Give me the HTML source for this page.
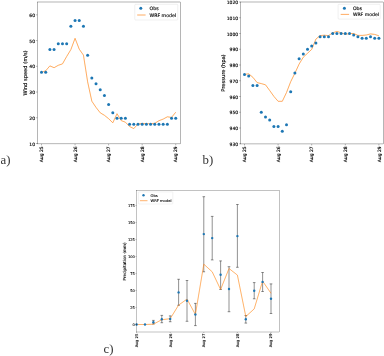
<!DOCTYPE html>
<html><head><meta charset="utf-8"><title>figure</title>
<style>html,body{margin:0;padding:0;background:#fff}svg{display:block}.t{font-family:'DejaVu Sans','Liberation Sans',sans-serif;fill:#000;stroke:#000;stroke-width:0.12px;text-rendering:geometricPrecision}</style></head>
<body><svg width="384" height="356" viewBox="0 0 384 356">
<rect width="384" height="356" fill="#fff"/>
<defs><filter id="soft" x="0" y="0" width="384" height="356" filterUnits="userSpaceOnUse"><feGaussianBlur stdDeviation="0.3"/></filter></defs>
<g filter="url(#soft)">
<polyline points="41.50,72.40 45.70,70.80 49.89,65.90 54.09,67.70 58.28,65.30 62.48,63.90 66.67,56.50 70.87,49.60 75.06,38.30 79.25,49.20 83.45,55.10 87.65,81.90 91.84,101.20 96.03,107.40 100.23,112.80 104.43,115.30 108.62,118.70 112.81,122.80 117.01,113.70 121.21,120.60 125.40,122.20 129.59,126.50 133.79,128.60 137.99,123.90 142.18,123.40 146.38,123.70 150.57,123.70 154.77,123.30 158.96,120.70 163.16,119.10 167.35,116.80 171.55,117.40 175.74,112.20" fill="none" stroke="#ff7f0e" stroke-width="0.65" stroke-linejoin="round" stroke-opacity="1"/>
<circle cx="41.50" cy="72.25" r="1.5" fill="#1f77b4"/>
<circle cx="45.70" cy="72.25" r="1.5" fill="#1f77b4"/>
<circle cx="49.89" cy="49.50" r="1.5" fill="#1f77b4"/>
<circle cx="54.09" cy="49.50" r="1.5" fill="#1f77b4"/>
<circle cx="58.28" cy="43.75" r="1.5" fill="#1f77b4"/>
<circle cx="62.48" cy="43.75" r="1.5" fill="#1f77b4"/>
<circle cx="66.67" cy="43.75" r="1.5" fill="#1f77b4"/>
<circle cx="70.87" cy="26.25" r="1.5" fill="#1f77b4"/>
<circle cx="75.06" cy="20.50" r="1.5" fill="#1f77b4"/>
<circle cx="79.25" cy="20.50" r="1.5" fill="#1f77b4"/>
<circle cx="83.45" cy="26.25" r="1.5" fill="#1f77b4"/>
<circle cx="87.65" cy="55.25" r="1.5" fill="#1f77b4"/>
<circle cx="91.84" cy="78.05" r="1.5" fill="#1f77b4"/>
<circle cx="96.03" cy="83.75" r="1.5" fill="#1f77b4"/>
<circle cx="100.23" cy="89.85" r="1.5" fill="#1f77b4"/>
<circle cx="104.43" cy="95.45" r="1.5" fill="#1f77b4"/>
<circle cx="108.62" cy="104.55" r="1.5" fill="#1f77b4"/>
<circle cx="112.81" cy="112.65" r="1.5" fill="#1f77b4"/>
<circle cx="117.01" cy="118.35" r="1.5" fill="#1f77b4"/>
<circle cx="121.21" cy="118.35" r="1.5" fill="#1f77b4"/>
<circle cx="125.40" cy="118.35" r="1.5" fill="#1f77b4"/>
<circle cx="129.59" cy="124.25" r="1.5" fill="#1f77b4"/>
<circle cx="133.79" cy="124.25" r="1.5" fill="#1f77b4"/>
<circle cx="137.99" cy="124.25" r="1.5" fill="#1f77b4"/>
<circle cx="142.18" cy="124.25" r="1.5" fill="#1f77b4"/>
<circle cx="146.38" cy="124.25" r="1.5" fill="#1f77b4"/>
<circle cx="150.57" cy="124.25" r="1.5" fill="#1f77b4"/>
<circle cx="154.77" cy="124.25" r="1.5" fill="#1f77b4"/>
<circle cx="158.96" cy="124.25" r="1.5" fill="#1f77b4"/>
<circle cx="163.16" cy="124.25" r="1.5" fill="#1f77b4"/>
<circle cx="167.35" cy="124.25" r="1.5" fill="#1f77b4"/>
<circle cx="171.55" cy="118.35" r="1.5" fill="#1f77b4"/>
<circle cx="175.74" cy="118.35" r="1.5" fill="#1f77b4"/>
<rect x="37.4" y="2" width="143.2" height="141.9" fill="none" stroke="#000" stroke-width="0.29"/>
<path d="M37.4 143.50h-1.5" stroke="#000" stroke-width="0.29"/>
<text x="35.00" y="145.67" font-size="4.5" text-anchor="end" class="t" stroke-width="0.14" style="stroke-width:0.14px">10</text>
<path d="M37.4 117.77h-1.5" stroke="#000" stroke-width="0.29"/>
<text x="35.00" y="119.94" font-size="4.5" text-anchor="end" class="t" stroke-width="0.14" style="stroke-width:0.14px">20</text>
<path d="M37.4 92.04h-1.5" stroke="#000" stroke-width="0.29"/>
<text x="35.00" y="94.21" font-size="4.5" text-anchor="end" class="t" stroke-width="0.14" style="stroke-width:0.14px">30</text>
<path d="M37.4 66.31h-1.5" stroke="#000" stroke-width="0.29"/>
<text x="35.00" y="68.48" font-size="4.5" text-anchor="end" class="t" stroke-width="0.14" style="stroke-width:0.14px">40</text>
<path d="M37.4 40.58h-1.5" stroke="#000" stroke-width="0.29"/>
<text x="35.00" y="42.75" font-size="4.5" text-anchor="end" class="t" stroke-width="0.14" style="stroke-width:0.14px">50</text>
<path d="M37.4 14.85h-1.5" stroke="#000" stroke-width="0.29"/>
<text x="35.00" y="17.02" font-size="4.5" text-anchor="end" class="t" stroke-width="0.14" style="stroke-width:0.14px">60</text>
<path d="M41.50 143.9v1.5" stroke="#000" stroke-width="0.29"/>
<text transform="translate(43.12,146.30) rotate(-90)" font-size="4.5" text-anchor="end" class="t" stroke-width="0.14" style="stroke-width:0.14px">Aug 25</text>
<path d="M75.06 143.9v1.5" stroke="#000" stroke-width="0.29"/>
<text transform="translate(76.68,146.30) rotate(-90)" font-size="4.5" text-anchor="end" class="t" stroke-width="0.14" style="stroke-width:0.14px">Aug 26</text>
<path d="M108.62 143.9v1.5" stroke="#000" stroke-width="0.29"/>
<text transform="translate(110.24,146.30) rotate(-90)" font-size="4.5" text-anchor="end" class="t" stroke-width="0.14" style="stroke-width:0.14px">Aug 27</text>
<path d="M142.18 143.9v1.5" stroke="#000" stroke-width="0.29"/>
<text transform="translate(143.80,146.30) rotate(-90)" font-size="4.5" text-anchor="end" class="t" stroke-width="0.14" style="stroke-width:0.14px">Aug 28</text>
<path d="M175.74 143.9v1.5" stroke="#000" stroke-width="0.29"/>
<text transform="translate(177.36,146.30) rotate(-90)" font-size="4.5" text-anchor="end" class="t" stroke-width="0.14" style="stroke-width:0.14px">Aug 29</text>
<text transform="translate(27,73) rotate(-90)" font-size="5.15" text-anchor="middle" class="t" stroke-width="0.14" style="stroke-width:0.14px">Wind speed (m/s)</text>
<rect x="134.8" y="4.3" width="43.0" height="15.7" rx="0.8" fill="#fff" fill-opacity="0.8" stroke="#ccc" stroke-width="0.29"/>
<circle cx="140.8" cy="8.3" r="1.5" fill="#1f77b4"/>
<path d="M137.2 15.0H145.6" stroke="#ff7f0e" stroke-width="0.65"/>
<text x="149.5" y="9.99" font-size="4.7" class="t" stroke-width="0.14" style="stroke-width:0.14px">Obs</text>
<text x="149.5" y="16.69" font-size="4.7" class="t" stroke-width="0.14" style="stroke-width:0.14px">WRF model</text>
<text x="0.6" y="164.2" font-size="12.8" fill="#333" font-family="Liberation Serif, serif">a)</text>
<polyline points="244.50,74.40 248.70,73.80 252.90,77.30 257.10,82.60 261.30,83.60 265.50,84.80 269.70,90.50 273.90,96.40 278.10,101.30 282.30,101.30 286.50,92.50 290.70,81.70 294.90,73.20 299.10,64.10 303.30,57.20 307.50,53.30 311.70,49.40 315.90,39.10 320.10,35.60 324.30,35.20 328.50,35.60 332.70,32.90 336.90,31.40 341.10,32.80 345.30,34.40 349.50,33.50 353.70,33.50 357.90,35.40 362.10,35.40 366.30,35.00 370.50,33.90 374.70,34.40 378.90,35.80" fill="none" stroke="#ff7f0e" stroke-width="0.65" stroke-linejoin="round" stroke-opacity="1"/>
<circle cx="244.50" cy="74.45" r="1.5" fill="#1f77b4"/>
<circle cx="248.70" cy="76.03" r="1.5" fill="#1f77b4"/>
<circle cx="252.90" cy="85.47" r="1.5" fill="#1f77b4"/>
<circle cx="257.10" cy="85.47" r="1.5" fill="#1f77b4"/>
<circle cx="261.30" cy="112.25" r="1.5" fill="#1f77b4"/>
<circle cx="265.50" cy="116.97" r="1.5" fill="#1f77b4"/>
<circle cx="269.70" cy="120.12" r="1.5" fill="#1f77b4"/>
<circle cx="273.90" cy="126.42" r="1.5" fill="#1f77b4"/>
<circle cx="278.10" cy="126.42" r="1.5" fill="#1f77b4"/>
<circle cx="282.30" cy="131.15" r="1.5" fill="#1f77b4"/>
<circle cx="286.50" cy="124.85" r="1.5" fill="#1f77b4"/>
<circle cx="290.70" cy="91.78" r="1.5" fill="#1f77b4"/>
<circle cx="294.90" cy="72.88" r="1.5" fill="#1f77b4"/>
<circle cx="299.10" cy="58.70" r="1.5" fill="#1f77b4"/>
<circle cx="303.30" cy="53.98" r="1.5" fill="#1f77b4"/>
<circle cx="307.50" cy="49.25" r="1.5" fill="#1f77b4"/>
<circle cx="311.70" cy="46.10" r="1.5" fill="#1f77b4"/>
<circle cx="315.90" cy="42.95" r="1.5" fill="#1f77b4"/>
<circle cx="320.10" cy="36.65" r="1.5" fill="#1f77b4"/>
<circle cx="324.30" cy="36.65" r="1.5" fill="#1f77b4"/>
<circle cx="328.50" cy="36.65" r="1.5" fill="#1f77b4"/>
<circle cx="332.70" cy="33.50" r="1.5" fill="#1f77b4"/>
<circle cx="336.90" cy="33.50" r="1.5" fill="#1f77b4"/>
<circle cx="341.10" cy="33.50" r="1.5" fill="#1f77b4"/>
<circle cx="345.30" cy="33.50" r="1.5" fill="#1f77b4"/>
<circle cx="349.50" cy="33.50" r="1.5" fill="#1f77b4"/>
<circle cx="353.70" cy="35.08" r="1.5" fill="#1f77b4"/>
<circle cx="357.90" cy="36.65" r="1.5" fill="#1f77b4"/>
<circle cx="362.10" cy="38.23" r="1.5" fill="#1f77b4"/>
<circle cx="366.30" cy="38.23" r="1.5" fill="#1f77b4"/>
<circle cx="370.50" cy="36.65" r="1.5" fill="#1f77b4"/>
<circle cx="374.70" cy="38.23" r="1.5" fill="#1f77b4"/>
<circle cx="378.90" cy="38.23" r="1.5" fill="#1f77b4"/>
<rect x="240.6" y="2" width="142.70000000000002" height="141.95" fill="none" stroke="#000" stroke-width="0.29"/>
<path d="M240.6 143.75h-1.5" stroke="#000" stroke-width="0.29"/>
<text x="238.20" y="145.92" font-size="4.5" text-anchor="end" class="t" stroke-width="0.14" style="stroke-width:0.14px">930</text>
<path d="M240.6 128.00h-1.5" stroke="#000" stroke-width="0.29"/>
<text x="238.20" y="130.17" font-size="4.5" text-anchor="end" class="t" stroke-width="0.14" style="stroke-width:0.14px">940</text>
<path d="M240.6 112.25h-1.5" stroke="#000" stroke-width="0.29"/>
<text x="238.20" y="114.42" font-size="4.5" text-anchor="end" class="t" stroke-width="0.14" style="stroke-width:0.14px">950</text>
<path d="M240.6 96.50h-1.5" stroke="#000" stroke-width="0.29"/>
<text x="238.20" y="98.67" font-size="4.5" text-anchor="end" class="t" stroke-width="0.14" style="stroke-width:0.14px">960</text>
<path d="M240.6 80.75h-1.5" stroke="#000" stroke-width="0.29"/>
<text x="238.20" y="82.92" font-size="4.5" text-anchor="end" class="t" stroke-width="0.14" style="stroke-width:0.14px">970</text>
<path d="M240.6 65.00h-1.5" stroke="#000" stroke-width="0.29"/>
<text x="238.20" y="67.17" font-size="4.5" text-anchor="end" class="t" stroke-width="0.14" style="stroke-width:0.14px">980</text>
<path d="M240.6 49.25h-1.5" stroke="#000" stroke-width="0.29"/>
<text x="238.20" y="51.42" font-size="4.5" text-anchor="end" class="t" stroke-width="0.14" style="stroke-width:0.14px">990</text>
<path d="M240.6 33.50h-1.5" stroke="#000" stroke-width="0.29"/>
<text x="238.20" y="35.67" font-size="4.5" text-anchor="end" class="t" stroke-width="0.14" style="stroke-width:0.14px">1000</text>
<path d="M240.6 17.75h-1.5" stroke="#000" stroke-width="0.29"/>
<text x="238.20" y="19.92" font-size="4.5" text-anchor="end" class="t" stroke-width="0.14" style="stroke-width:0.14px">1010</text>
<path d="M240.6 2.00h-1.5" stroke="#000" stroke-width="0.29"/>
<text x="238.20" y="4.17" font-size="4.5" text-anchor="end" class="t" stroke-width="0.14" style="stroke-width:0.14px">1020</text>
<path d="M244.50 143.95v1.5" stroke="#000" stroke-width="0.29"/>
<text transform="translate(246.12,146.35) rotate(-90)" font-size="4.5" text-anchor="end" class="t" stroke-width="0.14" style="stroke-width:0.14px">Aug 25</text>
<path d="M278.10 143.95v1.5" stroke="#000" stroke-width="0.29"/>
<text transform="translate(279.72,146.35) rotate(-90)" font-size="4.5" text-anchor="end" class="t" stroke-width="0.14" style="stroke-width:0.14px">Aug 26</text>
<path d="M311.70 143.95v1.5" stroke="#000" stroke-width="0.29"/>
<text transform="translate(313.32,146.35) rotate(-90)" font-size="4.5" text-anchor="end" class="t" stroke-width="0.14" style="stroke-width:0.14px">Aug 27</text>
<path d="M345.30 143.95v1.5" stroke="#000" stroke-width="0.29"/>
<text transform="translate(346.92,146.35) rotate(-90)" font-size="4.5" text-anchor="end" class="t" stroke-width="0.14" style="stroke-width:0.14px">Aug 28</text>
<path d="M378.90 143.95v1.5" stroke="#000" stroke-width="0.29"/>
<text transform="translate(380.52,146.35) rotate(-90)" font-size="4.5" text-anchor="end" class="t" stroke-width="0.14" style="stroke-width:0.14px">Aug 29</text>
<text transform="translate(225.2,73) rotate(-90)" font-size="5.15" text-anchor="middle" class="t" stroke-width="0.14" style="stroke-width:0.14px">Pressure (hpa)</text>
<rect x="338.1" y="4.3" width="42.099999999999966" height="14.8" rx="0.8" fill="#fff" fill-opacity="0.8" stroke="#ccc" stroke-width="0.29"/>
<circle cx="344.4" cy="8.3" r="1.5" fill="#1f77b4"/>
<path d="M340.7 14.4H349.1" stroke="#ff7f0e" stroke-width="0.65"/>
<text x="352.9" y="9.96" font-size="4.6" class="t" stroke-width="0.14" style="stroke-width:0.14px">Obs</text>
<text x="352.9" y="16.06" font-size="4.6" class="t" stroke-width="0.14" style="stroke-width:0.14px">WRF model</text>
<text x="202.6" y="164.2" font-size="12.8" fill="#333" font-family="Liberation Serif, serif">b)</text>
<path d="M153.40 320.40V324.00M152.10 320.40H154.70M152.10 324.00H154.70" stroke="#222" stroke-width="0.5" fill="none"/>
<path d="M161.80 315.40V322.70M160.50 315.40H163.10M160.50 322.70H163.10" stroke="#222" stroke-width="0.5" fill="none"/>
<path d="M170.20 315.90V321.70M168.90 315.90H171.50M168.90 321.70H171.50" stroke="#222" stroke-width="0.5" fill="none"/>
<path d="M178.60 279.30V305.30M177.30 279.30H179.90M177.30 305.30H179.90" stroke="#222" stroke-width="0.5" fill="none"/>
<path d="M187.00 280.50V321.30M185.70 280.50H188.30M185.70 321.30H188.30" stroke="#222" stroke-width="0.5" fill="none"/>
<path d="M195.40 303.40V325.60M194.10 303.40H196.70M194.10 325.60H196.70" stroke="#222" stroke-width="0.5" fill="none"/>
<path d="M203.80 196.70V271.80M202.50 196.70H205.10M202.50 271.80H205.10" stroke="#222" stroke-width="0.5" fill="none"/>
<path d="M212.20 216.40V259.90M210.90 216.40H213.50M210.90 259.90H213.50" stroke="#222" stroke-width="0.5" fill="none"/>
<path d="M220.60 260.90V289.50M219.30 260.90H221.90M219.30 289.50H221.90" stroke="#222" stroke-width="0.5" fill="none"/>
<path d="M229.00 266.70V311.70M227.70 266.70H230.30M227.70 311.70H230.30" stroke="#222" stroke-width="0.5" fill="none"/>
<path d="M237.40 204.50V267.30M236.10 204.50H238.70M236.10 267.30H238.70" stroke="#222" stroke-width="0.5" fill="none"/>
<path d="M245.80 315.50V323.10M244.50 315.50H247.10M244.50 323.10H247.10" stroke="#222" stroke-width="0.5" fill="none"/>
<path d="M254.20 282.60V298.80M252.90 282.60H255.50M252.90 298.80H255.50" stroke="#222" stroke-width="0.5" fill="none"/>
<path d="M262.60 272.50V291.50M261.30 272.50H263.90M261.30 291.50H263.90" stroke="#222" stroke-width="0.5" fill="none"/>
<path d="M271.00 283.90V313.50M269.70 283.90H272.30M269.70 313.50H272.30" stroke="#222" stroke-width="0.5" fill="none"/>
<polyline points="136.60,324.50 145.00,324.50 153.40,324.20 161.80,319.70 170.20,318.70 178.60,305.10 187.00,299.10 195.40,314.50 203.80,264.20 212.20,271.80 220.60,289.50 229.00,268.50 237.40,275.10 245.80,316.50 254.20,308.90 262.60,281.10 271.00,293.30" fill="none" stroke="#ff7f0e" stroke-width="0.6" stroke-linejoin="round" stroke-opacity="1"/>
<circle cx="136.60" cy="324.50" r="1.2" fill="#1f77b4"/>
<circle cx="145.00" cy="324.50" r="1.2" fill="#1f77b4"/>
<circle cx="153.40" cy="322.20" r="1.2" fill="#1f77b4"/>
<circle cx="161.80" cy="319.20" r="1.2" fill="#1f77b4"/>
<circle cx="170.20" cy="318.90" r="1.2" fill="#1f77b4"/>
<circle cx="178.60" cy="292.40" r="1.2" fill="#1f77b4"/>
<circle cx="187.00" cy="300.70" r="1.2" fill="#1f77b4"/>
<circle cx="195.40" cy="314.50" r="1.2" fill="#1f77b4"/>
<circle cx="203.80" cy="234.10" r="1.2" fill="#1f77b4"/>
<circle cx="212.20" cy="238.10" r="1.2" fill="#1f77b4"/>
<circle cx="220.60" cy="274.80" r="1.2" fill="#1f77b4"/>
<circle cx="229.00" cy="289.00" r="1.2" fill="#1f77b4"/>
<circle cx="237.40" cy="236.10" r="1.2" fill="#1f77b4"/>
<circle cx="245.80" cy="319.30" r="1.2" fill="#1f77b4"/>
<circle cx="254.20" cy="290.70" r="1.2" fill="#1f77b4"/>
<circle cx="262.60" cy="281.90" r="1.2" fill="#1f77b4"/>
<circle cx="271.00" cy="298.80" r="1.2" fill="#1f77b4"/>
<rect x="136.5" y="190.2" width="142.89999999999998" height="141.8" fill="none" stroke="#000" stroke-width="0.24"/>
<path d="M136.5 324.50h-1.0" stroke="#000" stroke-width="0.24"/>
<text x="134.90" y="325.96" font-size="3.65" text-anchor="end" class="t" stroke-width="0.1" style="stroke-width:0.1px">0</text>
<path d="M136.5 307.50h-1.0" stroke="#000" stroke-width="0.24"/>
<text x="134.90" y="308.96" font-size="3.65" text-anchor="end" class="t" stroke-width="0.1" style="stroke-width:0.1px">25</text>
<path d="M136.5 290.50h-1.0" stroke="#000" stroke-width="0.24"/>
<text x="134.90" y="291.96" font-size="3.65" text-anchor="end" class="t" stroke-width="0.1" style="stroke-width:0.1px">50</text>
<path d="M136.5 273.50h-1.0" stroke="#000" stroke-width="0.24"/>
<text x="134.90" y="274.96" font-size="3.65" text-anchor="end" class="t" stroke-width="0.1" style="stroke-width:0.1px">75</text>
<path d="M136.5 256.50h-1.0" stroke="#000" stroke-width="0.24"/>
<text x="134.90" y="257.96" font-size="3.65" text-anchor="end" class="t" stroke-width="0.1" style="stroke-width:0.1px">100</text>
<path d="M136.5 239.50h-1.0" stroke="#000" stroke-width="0.24"/>
<text x="134.90" y="240.96" font-size="3.65" text-anchor="end" class="t" stroke-width="0.1" style="stroke-width:0.1px">125</text>
<path d="M136.5 222.50h-1.0" stroke="#000" stroke-width="0.24"/>
<text x="134.90" y="223.96" font-size="3.65" text-anchor="end" class="t" stroke-width="0.1" style="stroke-width:0.1px">150</text>
<path d="M136.5 205.50h-1.0" stroke="#000" stroke-width="0.24"/>
<text x="134.90" y="206.96" font-size="3.65" text-anchor="end" class="t" stroke-width="0.1" style="stroke-width:0.1px">175</text>
<path d="M136.60 332v1.0" stroke="#000" stroke-width="0.24"/>
<text transform="translate(137.99,333.60) rotate(-90)" font-size="3.85" text-anchor="end" class="t" stroke-width="0.1" style="stroke-width:0.1px">Aug 25</text>
<path d="M170.20 332v1.0" stroke="#000" stroke-width="0.24"/>
<text transform="translate(171.59,333.60) rotate(-90)" font-size="3.85" text-anchor="end" class="t" stroke-width="0.1" style="stroke-width:0.1px">Aug 26</text>
<path d="M203.80 332v1.0" stroke="#000" stroke-width="0.24"/>
<text transform="translate(205.19,333.60) rotate(-90)" font-size="3.85" text-anchor="end" class="t" stroke-width="0.1" style="stroke-width:0.1px">Aug 27</text>
<path d="M237.40 332v1.0" stroke="#000" stroke-width="0.24"/>
<text transform="translate(238.79,333.60) rotate(-90)" font-size="3.85" text-anchor="end" class="t" stroke-width="0.1" style="stroke-width:0.1px">Aug 28</text>
<path d="M271.00 332v1.0" stroke="#000" stroke-width="0.24"/>
<text transform="translate(272.39,333.60) rotate(-90)" font-size="3.85" text-anchor="end" class="t" stroke-width="0.1" style="stroke-width:0.1px">Aug 29</text>
<text transform="translate(126.4,261.4) rotate(-90)" font-size="4.12" text-anchor="middle" class="t" stroke-width="0.1" style="stroke-width:0.1px">Precipitation (mm)</text>
<rect x="138.4" y="191.9" width="34.400000000000006" height="12.099999999999994" rx="0.6" fill="#fff" fill-opacity="0.8" stroke="#ccc" stroke-width="0.24"/>
<circle cx="143.5" cy="195.2" r="1.2" fill="#1f77b4"/>
<path d="M139.9 200.7H147.5" stroke="#ff7f0e" stroke-width="0.6"/>
<text x="150.5" y="196.53" font-size="3.7" class="t" stroke-width="0.1" style="stroke-width:0.1px">Obs</text>
<text x="150.5" y="202.03" font-size="3.7" class="t" stroke-width="0.1" style="stroke-width:0.1px">WRF model</text>
<text x="103.6" y="352.7" font-size="12.8" fill="#333" font-family="Liberation Serif, serif">c)</text>
</g>
</svg></body></html>
